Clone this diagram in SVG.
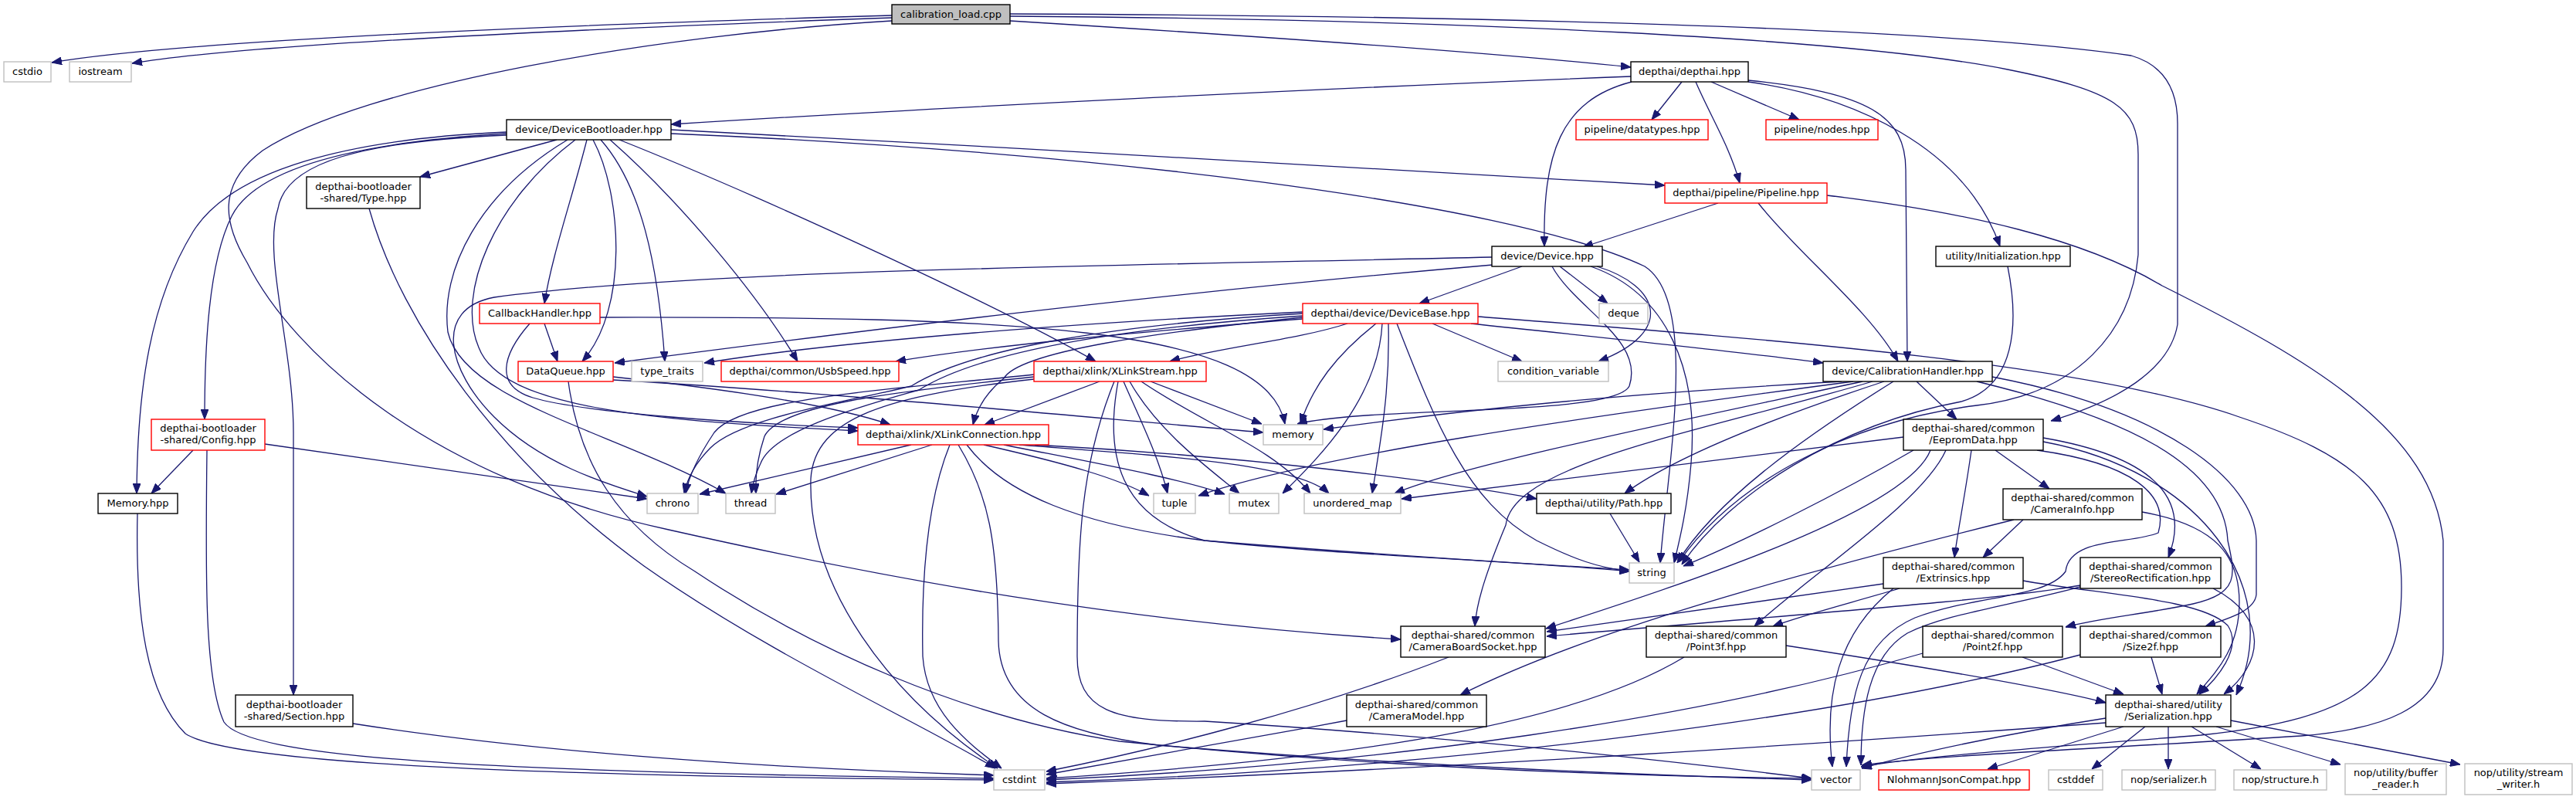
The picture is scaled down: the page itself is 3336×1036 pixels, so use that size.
<svg xmlns="http://www.w3.org/2000/svg" width="3336" height="1036" viewBox="0 0 3336 1036">
<style>
.n{fill:#fff;stroke:#000;stroke-width:1.4}
.g{fill:#fff;stroke:#bfbfbf;stroke-width:1.4}
.r{fill:#fff;stroke:#ff0000;stroke-width:1.4}
.root{fill:#bfbfbf;stroke:#000;stroke-width:1.4}
text{font-family:"DejaVu Sans","Liberation Sans",sans-serif;font-size:13px;text-anchor:middle;fill:#000}
#edges path{fill:none;stroke:#191970;stroke-width:1.3;marker-end:url(#a)}
</style>
<defs>
<marker id="a" markerUnits="userSpaceOnUse" markerWidth="13" markerHeight="10" refX="13" refY="5" orient="auto"><path d="M0,0 L13,5 L0,10 Z" fill="#191970" stroke="#191970" stroke-width="1"/></marker>
</defs>
<rect width="3336" height="1036" fill="#fff"/>
<g id="edges">
<path d="M1155,20 C 800,30 250,50 67,81"/>
<path d="M1155,23 C 820,35 330,55 171,82"/>
<path d="M1155,27 C 850,45 470,110 340,195 C 280,240 290,290 320,340 C 380,460 560,620 866,686 C 1150,750 1450,805 1814,828"/>
<path d="M1308,27 C 1600,45 1900,65 2112,87"/>
<path d="M1308,21 C 1900,25 2400,50 2600,90 C 2740,118 2769,140 2769,200 L2769,330 C 2760,430 2690,510 2560,525 C 2400,545 2250,620 2174,728"/>
<path d="M1308,18 C 1900,20 2500,35 2760,72 C 2805,85 2820,120 2820,160 L2820,420 C 2810,480 2740,520 2656,545"/>
<path d="M2112,99 C 1700,115 1200,140 869,161"/>
<path d="M2178,106 L2139,155"/>
<path d="M2216,106 L2330,155"/>
<path d="M2196,106 C 2215,150 2240,190 2253,237"/>
<path d="M2113,106 C 2020,130 1998,200 2000,319"/>
<path d="M2264,104 C 2420,120 2468,150 2468,220 L2470,468"/>
<path d="M2264,106 C 2400,125 2545,190 2590,319"/>
<path d="M721,181 L544,229"/>
<path d="M656,171 C 450,180 300,220 250,300 C 195,390 178,500 177,639"/>
<path d="M656,173 C 450,185 330,220 300,280 C 270,340 265,450 265,543"/>
<path d="M656,175 C 470,183 370,210 360,270 C 340,330 380,450 380,560 L380,900"/>
<path d="M745,181 C 640,260 590,380 620,450 C 650,530 850,545 1111,558"/>
<path d="M735,181 C 620,250 570,350 580,430 C 600,520 800,560 940,639"/>
<path d="M760,181 C 740,260 715,330 705,393"/>
<path d="M768,181 C 805,250 815,400 754,468"/>
<path d="M778,181 C 830,240 852,340 861,468"/>
<path d="M790,181 C 880,260 980,380 1033,468"/>
<path d="M802,181 C 1000,260 1300,400 1419,468"/>
<path d="M869,168 C 1300,190 1800,220 2156,240"/>
<path d="M869,173 C 1400,195 1950,260 2130,345 C 2200,390 2160,600 2150,729"/>
<path d="M705,419 L722,468"/>
<path d="M686,419 C 650,460 640,500 690,515 C 760,535 950,548 1111,554"/>
<path d="M777,411 C 1300,410 1640,420 1664,549"/>
<path d="M794,488 C 950,505 1080,525 1153,550"/>
<path d="M794,492 C 1100,510 1400,540 1636,560"/>
<path d="M736,494 C 750,600 800,680 900,740 C 1050,840 1250,930 1450,960 C 1800,995 2100,1005 2346,1008"/>
<path d="M1971,345 L1838,393"/>
<path d="M2020,345 L2082,393"/>
<path d="M2068,345 C 2150,370 2170,430 2070,468"/>
<path d="M2010,345 C 2040,400 2130,440 2110,500 C 2090,540 1780,525 1680,549"/>
<path d="M1933,343 C 1500,380 1100,430 796,470"/>
<path d="M1932,333 C 1400,345 900,350 640,385 C 560,400 580,480 640,540 C 700,600 780,625 838,643"/>
<path d="M2060,345 C 2160,380 2200,480 2190,600 C 2185,660 2175,700 2168,729"/>
<path d="M1745,419 C 1680,440 1580,450 1515,468"/>
<path d="M1782,419 C 1730,460 1700,500 1684,549"/>
<path d="M1798,419 C 1800,500 1790,560 1777,639"/>
<path d="M1790,419 C 1785,520 1700,600 1661,639"/>
<path d="M1809,419 C 1860,550 1900,650 1990,700 C 2040,725 2070,735 2110,740"/>
<path d="M1855,419 L1971,468"/>
<path d="M1905,419 C 2100,440 2250,455 2361,470"/>
<path d="M1914,410 C 2300,440 2700,470 2900,540 C 3050,590 3110,640 3110,760 C 3110,880 3060,930 2850,952 C 2650,968 2480,980 2410,993"/>
<path d="M1687,406 C 1450,420 1260,450 1180,500 C 1100,520 960,540 920,580 C 900,600 890,620 886,639"/>
<path d="M1687,409 C 1450,425 1270,455 1190,505 C 1100,530 1000,560 985,600 C 978,615 975,625 973,639"/>
<path d="M1687,411 C 1500,430 1320,455 1300,490 C 1275,510 1265,530 1260,550"/>
<path d="M1687,413 C 1500,428 1300,445 1160,468"/>
<path d="M1687,404 C 1400,418 1100,440 912,470"/>
<path d="M1424,494 L1275,550"/>
<path d="M1490,494 L1634,549"/>
<path d="M1455,494 C 1475,540 1500,590 1512,639"/>
<path d="M1463,494 C 1500,560 1570,610 1605,639"/>
<path d="M1478,494 C 1560,550 1650,580 1697,639"/>
<path d="M1448,494 C 1430,590 1450,670 1560,700 C 1750,720 1950,725 2110,740"/>
<path d="M1443,494 C 1400,600 1395,700 1395,850 C 1395,920 1440,935 1560,934 C 1900,955 2200,990 2346,1008"/>
<path d="M1339,485 C 1150,505 960,515 925,560 C 905,590 892,615 888,639"/>
<path d="M1339,488 C 1150,508 1010,525 990,565 C 980,595 978,620 979,639"/>
<path d="M1339,491 C 1150,512 1055,540 1050,620 C 1046,760 1150,900 1292,995"/>
<path d="M1180,576 L906,640"/>
<path d="M1207,576 L1005,640"/>
<path d="M1230,576 C 1200,650 1193,750 1195,850 C 1200,920 1250,960 1297,995"/>
<path d="M1241,576 C 1280,640 1292,700 1293,830 C 1295,920 1380,950 1500,965 C 1800,990 2100,1003 2346,1010"/>
<path d="M1252,576 C 1300,640 1400,680 1560,700 C 1800,720 1950,728 2110,738"/>
<path d="M1274,576 C 1380,600 1450,620 1488,642"/>
<path d="M1300,576 C 1420,600 1530,620 1586,640"/>
<path d="M1320,576 C 1500,590 1680,600 1721,639"/>
<path d="M1340,576 C 1600,590 1850,620 1990,646"/>
<path d="M2482,494 L2534,543"/>
<path d="M2385,494 C 2100,510 1900,530 1714,556"/>
<path d="M2400,494 C 2050,540 1700,590 1552,642"/>
<path d="M2412,494 C 2200,540 1900,600 1806,639"/>
<path d="M2440,494 C 2300,540 2170,590 2104,639"/>
<path d="M2452,494 C 2330,570 2220,650 2172,729"/>
<path d="M2425,494 C 2200,560 1960,600 1950,680 C 1925,740 1912,780 1910,811"/>
<path d="M2560,494 C 2750,540 2880,600 2885,700 C 2895,745 2900,768 2840,782 C 2780,795 2720,800 2675,812"/>
<path d="M2580,488 C 2800,530 2920,620 2922,700 L2922,770 C 2920,790 2890,800 2856,811"/>
<path d="M2584,583 L2654,633"/>
<path d="M2553,583 C 2545,640 2535,690 2531,722"/>
<path d="M2465,566 L1815,646"/>
<path d="M2478,583 C 2380,640 2260,700 2180,733"/>
<path d="M2500,583 C 2470,660 2200,750 2002,814"/>
<path d="M2520,583 C 2490,650 2350,740 2272,811"/>
<path d="M2646,567 C 2780,590 2840,640 2808,722"/>
<path d="M2646,572 C 2850,610 2960,760 2896,900"/>
<path d="M2638,583 C 2760,600 2810,640 2795,690 C 2760,705 2680,695 2675,740 C 2650,775 2560,770 2480,800 C 2410,830 2395,900 2391,993"/>
<path d="M2608,673 C 2300,750 2050,820 1891,900"/>
<path d="M2620,673 L2568,722"/>
<path d="M2774,663 C 2870,680 2900,720 2900,780 C 2900,840 2870,870 2845,899"/>
<path d="M2439,756 L2003,818"/>
<path d="M2460,762 C 2400,780 2340,795 2296,811"/>
<path d="M2452,762 C 2380,820 2362,900 2373,993"/>
<path d="M2620,752 C 2720,770 2850,775 2885,810 C 2905,840 2870,880 2848,899"/>
<path d="M2694,758 C 2600,775 2400,790 2003,824"/>
<path d="M2866,762 C 2940,800 2930,860 2880,899"/>
<path d="M2694,760 C 2600,785 2520,795 2470,820 C 2420,850 2410,920 2410,991"/>
<path d="M2313,836 C 2500,865 2650,890 2727,910"/>
<path d="M2181,851 C 2050,930 1800,980 1355,1008"/>
<path d="M2619,851 L2750,899"/>
<path d="M2490,846 C 2200,930 1800,990 1355,1010"/>
<path d="M2786,851 L2800,899"/>
<path d="M2694,848 C 2400,925 1900,995 1355,1013"/>
<path d="M1876,851 C 1700,920 1500,970 1355,999"/>
<path d="M1744,933 C 1600,960 1450,985 1355,1003"/>
<path d="M2727,936 C 2400,960 1900,995 1355,1015"/>
<path d="M2727,930 C 2600,950 2480,975 2411,995"/>
<path d="M2750,941 L2574,996"/>
<path d="M2778,941 L2709,996"/>
<path d="M2808,941 L2808,996"/>
<path d="M2838,941 L2928,996"/>
<path d="M2870,941 L3031,990"/>
<path d="M2889,933 L3186,990"/>
<path d="M2085,665 L2123,728"/>
<path d="M2600,345 C 2615,420 2610,500 2540,520 C 2380,550 2240,640 2178,731"/>
<path d="M2366,253 C 2550,275 2700,310 2800,370 C 3000,470 3150,560 3164,700 L3164,840 C 3164,920 3080,945 2980,953 C 2750,968 2500,978 2411,991"/>
<path d="M2225,263 L2050,320"/>
<path d="M2277,263 C 2330,330 2420,400 2458,468"/>
<path d="M250,583 L196,639"/>
<path d="M343,575 L838,646"/>
<path d="M268,583 C 266,750 265,880 290,935 C 320,980 600,1000 1287,1008"/>
<path d="M178,665 C 175,800 190,900 240,950 C 300,990 700,1005 1287,1010"/>
<path d="M457,937 C 700,975 1000,995 1287,1004"/>
<path d="M478,270 C 520,420 650,600 834,733 C 1000,850 1200,940 1289,995"/>
</g>
<g id="n0"><rect class="root" x="1155" y="6" width="153" height="25"/><text x="1231.5" y="22.5">calibration_load.cpp</text></g>
<g id="n1"><rect class="g" x="5" y="80" width="61" height="26"/><text x="35.5" y="96.5">cstdio</text></g>
<g id="n2"><rect class="g" x="90" y="80" width="80" height="26"/><text x="130" y="96.5">iostream</text></g>
<g id="n3"><rect class="n" x="2112" y="80" width="152" height="26"/><text x="2188" y="96.5">depthai/depthai.hpp</text></g>
<g id="n4"><rect class="n" x="656" y="155" width="213" height="26"/><text x="762.5" y="171.5">device/DeviceBootloader.hpp</text></g>
<g id="n5"><rect class="r" x="2041" y="155" width="171" height="26"/><text x="2126.5" y="171.5">pipeline/datatypes.hpp</text></g>
<g id="n6"><rect class="r" x="2287" y="155" width="145" height="26"/><text x="2359.5" y="171.5">pipeline/nodes.hpp</text></g>
<g id="n7"><rect class="n" x="397" y="229" width="147" height="41"/><text x="470.5" y="245.5">depthai-bootloader</text><text x="470.5" y="260.5">-shared/Type.hpp</text></g>
<g id="n8"><rect class="r" x="2156" y="237" width="210" height="26"/><text x="2261" y="253.5">depthai/pipeline/Pipeline.hpp</text></g>
<g id="n9"><rect class="n" x="1932" y="319" width="143" height="26"/><text x="2003.5" y="335.5">device/Device.hpp</text></g>
<g id="n10"><rect class="n" x="2507" y="319" width="174" height="26"/><text x="2594" y="335.5">utility/Initialization.hpp</text></g>
<g id="n11"><rect class="r" x="621" y="393" width="156" height="26"/><text x="699" y="409.5">CallbackHandler.hpp</text></g>
<g id="n12"><rect class="r" x="1687" y="393" width="227" height="26"/><text x="1800.5" y="409.5">depthai/device/DeviceBase.hpp</text></g>
<g id="n13"><rect class="g" x="2071" y="393" width="63" height="26"/><text x="2102.5" y="409.5">deque</text></g>
<g id="n14"><rect class="r" x="671" y="468" width="123" height="26"/><text x="732.5" y="484.5">DataQueue.hpp</text></g>
<g id="n15"><rect class="g" x="818" y="468" width="92" height="26"/><text x="864" y="484.5">type_traits</text></g>
<g id="n16"><rect class="r" x="934" y="468" width="230" height="26"/><text x="1049" y="484.5">depthai/common/UsbSpeed.hpp</text></g>
<g id="n17"><rect class="r" x="1339" y="468" width="223" height="26"/><text x="1450.5" y="484.5">depthai/xlink/XLinkStream.hpp</text></g>
<g id="n18"><rect class="g" x="1940" y="468" width="143" height="26"/><text x="2011.5" y="484.5">condition_variable</text></g>
<g id="n19"><rect class="n" x="2361" y="468" width="219" height="26"/><text x="2470.5" y="484.5">device/CalibrationHandler.hpp</text></g>
<g id="n20"><rect class="r" x="196" y="543" width="147" height="40"/><text x="269.5" y="559">depthai-bootloader</text><text x="269.5" y="574">-shared/Config.hpp</text></g>
<g id="n21"><rect class="r" x="1111" y="550" width="247" height="26"/><text x="1234.5" y="566.5">depthai/xlink/XLinkConnection.hpp</text></g>
<g id="n22"><rect class="g" x="1636" y="550" width="77" height="26"/><text x="1674.5" y="566.5">memory</text></g>
<g id="n23"><rect class="n" x="2465" y="543" width="181" height="40"/><text x="2555.5" y="559">depthai-shared/common</text><text x="2555.5" y="574">/EepromData.hpp</text></g>
<g id="n24"><rect class="n" x="127" y="639" width="103" height="26"/><text x="178.5" y="655.5">Memory.hpp</text></g>
<g id="n25"><rect class="g" x="838" y="639" width="66" height="26"/><text x="871" y="655.5">chrono</text></g>
<g id="n26"><rect class="g" x="940" y="639" width="64" height="26"/><text x="972" y="655.5">thread</text></g>
<g id="n27"><rect class="g" x="1494" y="639" width="54" height="26"/><text x="1521" y="655.5">tuple</text></g>
<g id="n28"><rect class="g" x="1592" y="639" width="64" height="26"/><text x="1624" y="655.5">mutex</text></g>
<g id="n29"><rect class="g" x="1689" y="639" width="125" height="26"/><text x="1751.5" y="655.5">unordered_map</text></g>
<g id="n30"><rect class="n" x="1990" y="639" width="174" height="26"/><text x="2077" y="655.5">depthai/utility/Path.hpp</text></g>
<g id="n31"><rect class="n" x="2594" y="633" width="180" height="40"/><text x="2684" y="649">depthai-shared/common</text><text x="2684" y="664">/CameraInfo.hpp</text></g>
<g id="n32"><rect class="g" x="2110" y="729" width="58" height="26"/><text x="2139" y="745.5">string</text></g>
<g id="n33"><rect class="n" x="2439" y="722" width="181" height="40"/><text x="2529.5" y="738">depthai-shared/common</text><text x="2529.5" y="753">/Extrinsics.hpp</text></g>
<g id="n34"><rect class="n" x="2694" y="722" width="182" height="40"/><text x="2785" y="738">depthai-shared/common</text><text x="2785" y="753">/StereoRectification.hpp</text></g>
<g id="n35"><rect class="n" x="1814" y="811" width="187" height="40"/><text x="1907.5" y="827">depthai-shared/common</text><text x="1907.5" y="842">/CameraBoardSocket.hpp</text></g>
<g id="n36"><rect class="n" x="2132" y="811" width="181" height="40"/><text x="2222.5" y="827">depthai-shared/common</text><text x="2222.5" y="842">/Point3f.hpp</text></g>
<g id="n37"><rect class="n" x="2490" y="811" width="181" height="40"/><text x="2580.5" y="827">depthai-shared/common</text><text x="2580.5" y="842">/Point2f.hpp</text></g>
<g id="n38"><rect class="n" x="2694" y="811" width="182" height="40"/><text x="2785" y="827">depthai-shared/common</text><text x="2785" y="842">/Size2f.hpp</text></g>
<g id="n39"><rect class="n" x="305" y="900" width="152" height="41"/><text x="381" y="916.5">depthai-bootloader</text><text x="381" y="931.5">-shared/Section.hpp</text></g>
<g id="n40"><rect class="n" x="1744" y="900" width="181" height="41"/><text x="1834.5" y="916.5">depthai-shared/common</text><text x="1834.5" y="931.5">/CameraModel.hpp</text></g>
<g id="n41"><rect class="n" x="2727" y="900" width="162" height="41"/><text x="2808" y="916.5">depthai-shared/utility</text><text x="2808" y="931.5">/Serialization.hpp</text></g>
<g id="n42"><rect class="g" x="1287" y="997" width="66" height="26"/><text x="1320" y="1013.5">cstdint</text></g>
<g id="n43"><rect class="g" x="2346" y="997" width="63" height="26"/><text x="2377.5" y="1013.5">vector</text></g>
<g id="n44"><rect class="r" x="2433" y="997" width="195" height="26"/><text x="2530.5" y="1013.5">NlohmannJsonCompat.hpp</text></g>
<g id="n45"><rect class="g" x="2653" y="997" width="70" height="26"/><text x="2688" y="1013.5">cstddef</text></g>
<g id="n46"><rect class="g" x="2748" y="997" width="121" height="26"/><text x="2808.5" y="1013.5">nop/serializer.h</text></g>
<g id="n47"><rect class="g" x="2893" y="997" width="120" height="26"/><text x="2953" y="1013.5">nop/structure.h</text></g>
<g id="n48"><rect class="g" x="3037" y="989" width="131" height="40"/><text x="3102.5" y="1005">nop/utility/buffer</text><text x="3102.5" y="1020">_reader.h</text></g>
<g id="n49"><rect class="g" x="3192" y="989" width="139" height="40"/><text x="3261.5" y="1005">nop/utility/stream</text><text x="3261.5" y="1020">_writer.h</text></g>
</svg>
